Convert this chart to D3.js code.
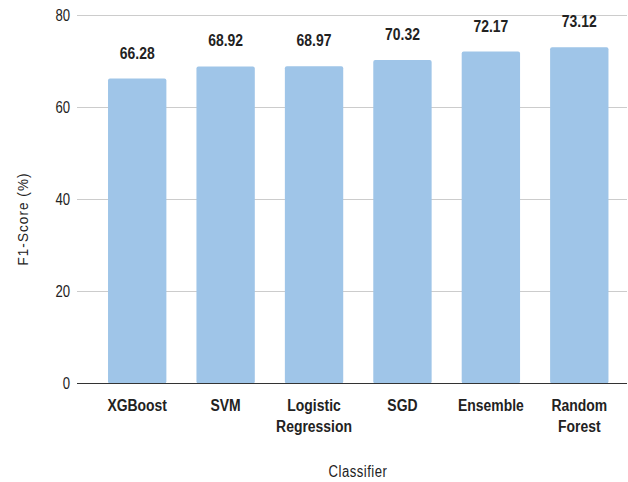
<!DOCTYPE html>
<html>
<head>
<meta charset="utf-8">
<script src="https://cdn.jsdelivr.net/npm/d3@7"></script>
<style>
  body { margin: 0; background: #fff; }
  svg { display: block; }
</style>
</head>
<body>
<div id="chart"></div>
<script>
// F1-score per classifier
const classifiers = [["XGBoost"], ["SVM"], ["Logistic", "Regression"], ["SGD"], ["Ensemble"], ["Random", "Forest"]];
const f1Scores = [66.28, 68.92, 68.97, 70.32, 72.17, 73.12];
const yTicks = [0, 20, 40, 60, 80];

const width = 628, height = 482;
const sans = "'Liberation Sans', Arial, sans-serif";
// no narrow font installed: squeeze Liberation Sans like Arial Narrow
const squeeze = (px, py) => `translate(${px},${py}) scale(0.82,1)`;

const svg = d3.select('#chart').append('svg').attr('width', width).attr('height', height);

const names = classifiers.map(c => c.join(' '));
const x = d3.scaleBand().domain(names).range([93, 623.5]).paddingInner(0.34).paddingOuter(0.17);
const y = d3.scaleLinear().domain([0, 80]).range([383.5, 15.5]);
const cx = i => x(names[i]) + x.bandwidth() / 2;

// gridlines
svg.append('g').selectAll('line').data(yTicks.filter(t => t > 0)).enter().append('line')
    .attr('x1', 77).attr('x2', 627)
    .attr('y1', d => y(d)).attr('y2', d => y(d))
    .attr('stroke', '#cccccc').attr('stroke-width', 1);

// y tick labels
svg.append('g').selectAll('text').data(yTicks).enter().append('text')
    .attr('transform', d => squeeze(70, y(d)))
    .attr('dy', '0.36em')
    .attr('text-anchor', 'end')
    .style('font-family', sans).style('font-size', '16px').attr('fill', '#222')
    .text(d => d);

// bars
svg.append('g').selectAll('rect').data(f1Scores).enter().append('rect')
    .attr('x', (d, i) => x(names[i]))
    .attr('y', d => y(d))
    .attr('width', x.bandwidth())
    .attr('height', d => y(0) - y(d))
    .attr('rx', 2)
    .attr('fill', '#9fc5e8');

// baseline
svg.append('line').attr('x1', 77).attr('x2', 627).attr('y1', y(0)).attr('y2', y(0))
    .attr('stroke', '#333').attr('stroke-width', 1.2);

// value labels
svg.append('g').selectAll('text').data(f1Scores).enter().append('text')
    .attr('transform', (d, i) => squeeze(cx(i), y(d) - 20))
    .attr('text-anchor', 'middle')
    .style('font-family', sans).style('font-size', '17px').style('font-weight', 'bold')
    .attr('fill', '#222')
    .text(d => d.toFixed(2));

// category labels
const cat = svg.append('g').selectAll('text').data(classifiers).enter().append('text')
    .attr('transform', (d, i) => squeeze(cx(i), 410.5))
    .attr('text-anchor', 'middle')
    .style('font-family', sans).style('font-size', '17px').style('font-weight', 'bold')
    .attr('fill', '#222');
cat.selectAll('tspan').data(d => d).enter().append('tspan')
    .attr('x', 0).attr('y', (l, j) => j * 22)
    .text(l => l);

// axis titles
svg.append('text')
    .attr('transform', 'translate(28,219) rotate(-90) scale(0.9,1)')
    .attr('text-anchor', 'middle')
    .style('font-family', sans).style('font-size', '15px')
    .style('letter-spacing', '1.2px').attr('fill', '#222')
    .text('F1-Score (%)');

svg.append('text')
    .attr('transform', squeeze(358, 477))
    .attr('text-anchor', 'middle')
    .style('font-family', sans).style('font-size', '16px')
    .style('letter-spacing', '0.6px')
    .attr('fill', '#222')
    .text('Classifier');
</script>
</body>
</html>
